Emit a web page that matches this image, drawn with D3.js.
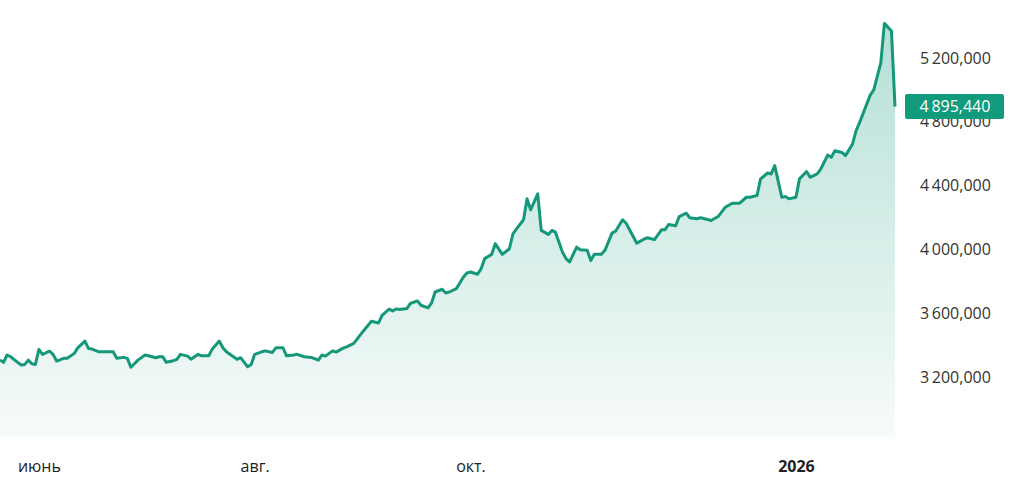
<!DOCTYPE html>
<html>
<head>
<meta charset="utf-8">
<script src="https://cdn.jsdelivr.net/npm/d3@7"></script>
<style>
  html, body { margin: 0; padding: 0; background: #ffffff; }
  svg { display: block; }
</style>
</head>
<body>
<svg id="chart" width="1024" height="487"></svg>
<script>
const dates = [
"2025-05-21","2025-05-22","2025-05-23","2025-05-24","2025-05-26","2025-05-27","2025-05-28","2025-05-29","2025-05-30","2025-05-31",
"2025-06-01","2025-06-02","2025-06-04","2025-06-05","2025-06-06","2025-06-08","2025-06-09","2025-06-11","2025-06-12","2025-06-14",
"2025-06-15","2025-06-16","2025-06-18","2025-06-22","2025-06-23","2025-06-25","2025-06-26","2025-06-27","2025-06-29","2025-07-01",
"2025-07-02","2025-07-04","2025-07-05","2025-07-06","2025-07-07","2025-07-09","2025-07-10","2025-07-11","2025-07-13","2025-07-14",
"2025-07-16","2025-07-17","2025-07-19","2025-07-20","2025-07-22","2025-07-23","2025-07-24","2025-07-26","2025-07-27","2025-07-28",
"2025-07-30","2025-07-31","2025-08-01","2025-08-03","2025-08-04","2025-08-06","2025-08-07","2025-08-09","2025-08-10","2025-08-12",
"2025-08-13","2025-08-15","2025-08-17","2025-08-19","2025-08-20","2025-08-21","2025-08-23","2025-08-24","2025-08-26","2025-08-27",
"2025-08-29","2025-08-30","2025-08-31","2025-09-02","2025-09-03","2025-09-05","2025-09-06","2025-09-08","2025-09-09","2025-09-10",
"2025-09-11","2025-09-13","2025-09-14","2025-09-16","2025-09-17","2025-09-19","2025-09-20","2025-09-21","2025-09-23","2025-09-24",
"2025-09-25","2025-09-27","2025-09-29","2025-09-30","2025-10-01","2025-10-03","2025-10-04","2025-10-05","2025-10-07","2025-10-08",
"2025-10-10","2025-10-12","2025-10-13","2025-10-14","2025-10-16","2025-10-17","2025-10-18","2025-10-20","2025-10-21","2025-10-23",
"2025-10-24","2025-10-25","2025-10-27","2025-10-28","2025-10-29","2025-10-31","2025-11-01","2025-11-03","2025-11-04","2025-11-05",
"2025-11-07","2025-11-08","2025-11-10","2025-11-11","2025-11-13","2025-11-14","2025-11-16","2025-11-17","2025-11-19","2025-11-20",
"2025-11-22","2025-11-24","2025-11-25","2025-11-26","2025-11-28","2025-11-29","2025-12-01","2025-12-02","2025-12-04","2025-12-05",
"2025-12-07","2025-12-08","2025-12-10","2025-12-12","2025-12-14","2025-12-16","2025-12-18","2025-12-19","2025-12-21","2025-12-22",
"2025-12-24","2025-12-25","2025-12-26","2025-12-28","2025-12-29","2025-12-30","2026-01-01","2026-01-02","2026-01-04","2026-01-05",
"2026-01-07","2026-01-08","2026-01-10","2026-01-11","2026-01-12","2026-01-14","2026-01-15","2026-01-17","2026-01-18","2026-01-19",
"2026-01-21","2026-01-22","2026-01-23","2026-01-25","2026-01-26","2026-01-28","2026-01-29"
];
const values = [
3306000,3292000,3338000,3327000,3292000,3275000,3279000,3306000,3283000,3279000,
3373000,3342000,3362000,3342000,3300000,3317000,3317000,3348000,3383000,3425000,
3379000,3375000,3358000,3358000,3317000,3323000,3317000,3261000,3306000,3338000,
3333000,3321000,3327000,3327000,3292000,3302000,3311000,3342000,3331000,3312000,
3342000,3333000,3333000,3375000,3425000,3383000,3358000,3327000,3311000,3321000,
3264000,3279000,3342000,3358000,3364000,3354000,3383000,3383000,3333000,3338000,
3342000,3327000,3323000,3306000,3338000,3331000,3364000,3356000,3381000,3389000,
3411000,3439000,3469000,3523000,3550000,3539000,3586000,3625000,3614000,3627000,
3623000,3629000,3661000,3677000,3650000,3633000,3664000,3733000,3750000,3727000,
3733000,3754000,3827000,3852000,3858000,3844000,3879000,3942000,3969000,4036000,
3969000,4004000,4098000,4129000,4186000,4317000,4248000,4348000,4119000,4094000,
4119000,4108000,3983000,3942000,3921000,4014000,3998000,3994000,3931000,3969000,
3969000,3994000,4102000,4114000,4186000,4164000,4081000,4039000,4064000,4073000,
4061000,4123000,4123000,4156000,4148000,4206000,4227000,4198000,4192000,4198000,
4188000,4181000,4206000,4264000,4289000,4289000,4327000,4327000,4338000,4442000,
4479000,4473000,4525000,4327000,4331000,4317000,4327000,4442000,4488000,4452000,
4473000,4504000,4592000,4577000,4619000,4608000,4588000,4661000,4744000,4796000,
4911000,4967000,5000000,5171000,5417000,5369000,4895440
];
const yTicks = [3200000, 3600000, 4000000, 4400000, 4800000, 5200000];
const xTickDates = ["2025-06-01", "2025-08-01", "2025-10-01", "2026-01-01"];
const xTickLabels = ["июнь", "авг.", "окт.", "2026"];
const lastValue = 4895440;

const parse = d3.utcParse("%Y-%m-%d");
const data = dates.map((d, i) => ({ date: parse(d), value: values[i] }));

const svg = d3.select("#chart");
const x = d3.scaleUtc()
  .domain(d3.extent(data, d => d.date))
  .range([0, 895]);
const y = d3.scaleLinear()
  .domain([3200000, 5200000])
  .range([377, 58]);
const baseY = 437;

const fmt = v => d3.format(",")(v).replace(",", "\u2009");

const defs = svg.append("defs");
const grad = defs.append("linearGradient")
  .attr("id", "areaGrad")
  .attr("gradientUnits", "userSpaceOnUse")
  .attr("x1", 0).attr("x2", 0)
  .attr("y1", y(d3.max(values))).attr("y2", baseY);
grad.append("stop").attr("offset", "0%").attr("stop-color", "#b4e0d5");
grad.append("stop").attr("offset", "100%").attr("stop-color", "#f7fbfb");

const area = d3.area()
  .x(d => x(d.date))
  .y0(baseY)
  .y1(d => y(d.value));
svg.append("path")
  .datum(data)
  .attr("d", area)
  .attr("fill", "url(#areaGrad)");

const line = d3.line()
  .x(d => x(d.date))
  .y(d => y(d.value));
svg.append("path")
  .datum(data)
  .attr("d", line)
  .attr("fill", "none")
  .attr("stroke", "#15977a")
  .attr("stroke-width", 3)
  .attr("stroke-linejoin", "round");

// Y axis labels (right)
const yAxis = d3.axisRight(y)
  .tickValues(yTicks)
  .tickSize(0)
  .tickPadding(0)
  .tickFormat(fmt);
const gy = svg.append("g")
  .attr("transform", "translate(920,0)")
  .call(yAxis);
gy.select(".domain").remove();
gy.selectAll("text")
  .attr("fill", "#333333")
  .style("font-family", "'Open Sans', sans-serif")
  .style("font-size", "16px");

// X axis labels
const xAxis = d3.axisBottom(x)
  .tickValues(xTickDates.map(parse))
  .tickSize(0)
  .tickPadding(0)
  .tickFormat((d, i) => xTickLabels[i]);
const gx = svg.append("g")
  .attr("transform", "translate(0,461)")
  .call(xAxis);
gx.select(".domain").remove();
gx.selectAll("text")
  .attr("fill", "#222222")
  .style("font-family", "'Open Sans', sans-serif")
  .style("font-size", "16px")
  .style("font-weight", (d, i) => i === 3 ? "bold" : "normal");

// Last value label (covers the nearby tick label, as in the original)
const ly = y(lastValue);
svg.append("rect")
  .attr("x", 905).attr("y", ly - 12.5)
  .attr("width", 99).attr("height", 25)
  .attr("rx", 2)
  .attr("fill", "#119a7b");
svg.append("text")
  .attr("x", 955).attr("y", ly)
  .attr("dy", "0.35em")
  .attr("text-anchor", "middle")
  .attr("fill", "#ffffff")
  .style("font-family", "'Open Sans', sans-serif")
  .style("font-size", "16px")
  .text(fmt(lastValue));
</script>
</body>
</html>
